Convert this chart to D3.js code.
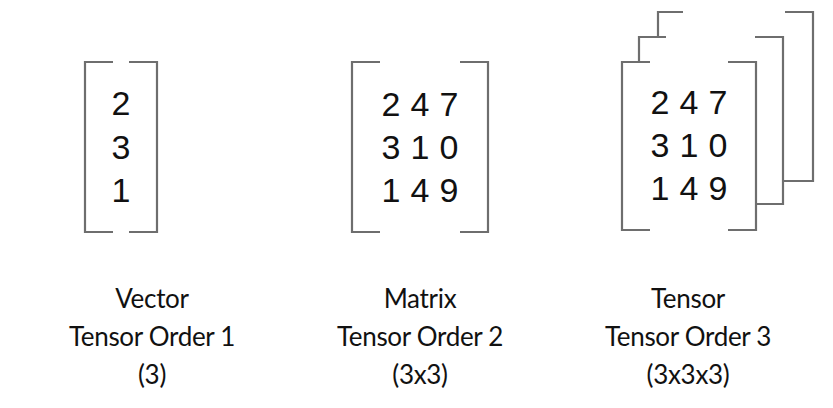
<!DOCTYPE html>
<html><head><meta charset="utf-8">
<script src="https://cdn.jsdelivr.net/npm/d3@7"></script>
<style>body{margin:0;background:#fff}</style></head>
<body><svg id="c" width="833" height="408"></svg>
<script>
const vectorValues=[[2],[3],[1]];
const matrixValues=[[2,4,7],[3,1,0],[1,4,9]];
const tensorValues=[[2,4,7],[3,1,0],[1,4,9]];
const labels=[["Vector","Tensor Order 1","(3)"],["Matrix","Tensor Order 2","(3x3)"],["Tensor","Tensor Order 3","(3x3x3)"]];
const centers=[121,420,689];
const labelCenters=[152,420,688];
const svg=d3.select("#c");
const gray="#6e6e6e";
function bracket(x0,x1,y0,y1,arm){
  const g=svg.append("g").attr("fill","none").attr("stroke",gray).attr("stroke-width",2.2);
  g.append("path").attr("d",`M${x0+arm},${y0}H${x0}V${y1}H${x0+arm}`);
  g.append("path").attr("d",`M${x1-arm},${y0}H${x1}V${y1}H${x1-arm}`);
}
function backLayer(x0,x1,y0,y1,armL,armR,frontLeft,frontBottom){
  const g=svg.append("g").attr("fill","none").attr("stroke",gray).attr("stroke-width",2.2);
  g.append("path").attr("d",`M${x0+armL},${y0}H${x0}V${frontLeft}`);
  g.append("path").attr("d",`M${x1-armR},${y0}H${x1}V${y1}H${frontBottom}`);
}
function digits(vals,cx,rowY,gap){
  vals.forEach((row,i)=>row.forEach((v,j)=>{
    svg.append("text").attr("x",cx+(j-(row.length-1)/2)*gap).attr("y",rowY[i])
      .attr("text-anchor","middle").attr("dominant-baseline","central")
      .attr("font-family","Liberation Sans, Arial").attr("font-size",34).attr("fill","#111").text(v);
  }));
}
backLayer(658,813,12,181,25,28,37,783);
backLayer(639,783,37,204,27,28,62,756);
bracket(85,157,62,232,28);
bracket(352,488,62,232,28);
bracket(622,756,62,230,28);
digits(vectorValues,centers[0],[103,147,190],0);
digits(matrixValues,centers[1],[104,147,190],29);
digits(tensorValues,centers[2],[102,145,188],29);
labels.forEach((ls,k)=>ls.forEach((t,i)=>{
  svg.append("text").attr("x",labelCenters[k]).attr("y",298+i*38).attr("text-anchor","middle")
   .attr("dominant-baseline","central").attr("font-family","Lato, Open Sans, sans-serif")
   .attr("font-size",26).attr("letter-spacing",-0.3).attr("fill","#111").text(t);
}));
</script></body></html>
